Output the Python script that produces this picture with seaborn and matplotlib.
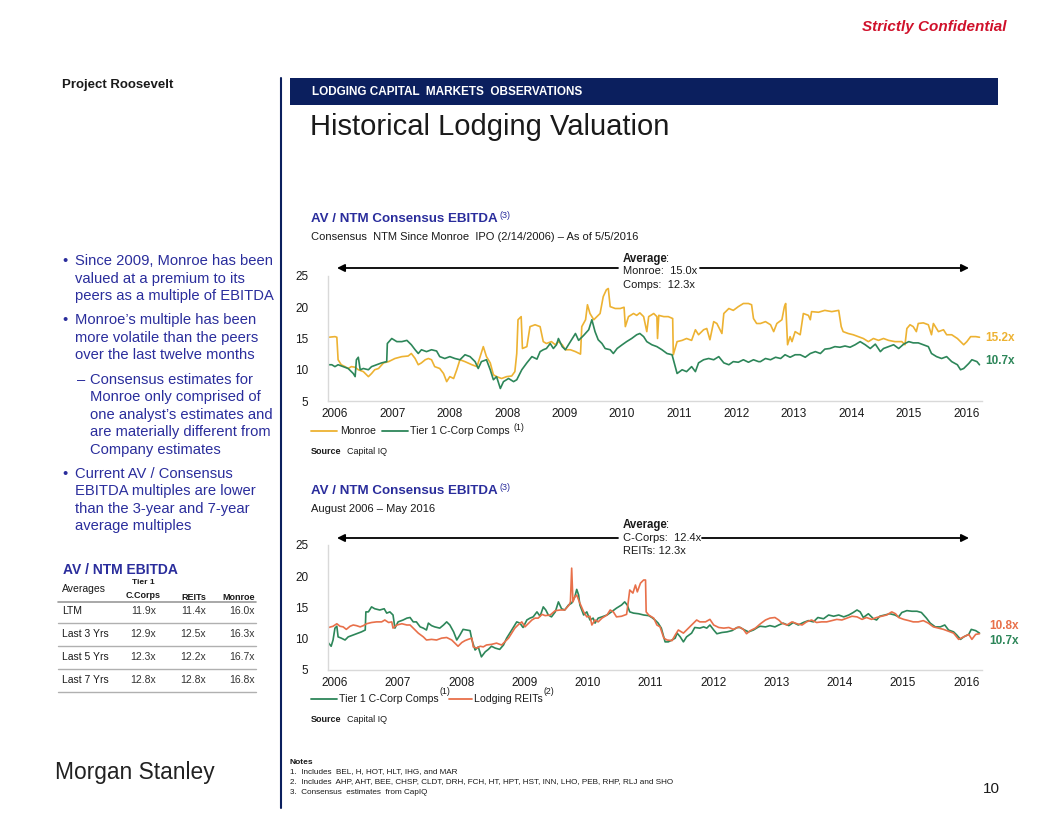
import matplotlib
matplotlib.use("Agg")
import matplotlib.pyplot as plt
from matplotlib.lines import Line2D
from matplotlib.patches import Rectangle
import seaborn as sns
import pandas as pd

sns.set_theme(style="white")
plt.rcParams['font.family'] = ['Liberation Sans', 'DejaVu Sans']

W, H = 1056, 816

GOLD = "#EDB232"
GREEN = "#2D8659"
ORANGE = "#E8704A"
NAVY = "#0B1F5E"
BLUE = "#2A2D9C"

# ---------------- DATA ----------------
# x is in axis periods: 0 = first tick label, 10 = last tick label
top_ticks = ["2006", "2007", "2008", "2008", "2009", "2010", "2011", "2012", "2013", "2014", "2015", "2016"]
bot_ticks = ["2006", "2007", "2008", "2009", "2010", "2011", "2012", "2013", "2014", "2015", "2016"]

top_monroe_t = [-0.1, 0.0, 0.03, 0.05, 0.1, 0.16, 0.21, 0.26, 0.32, 0.37, 0.45, 0.53, 0.58, 0.63, 0.69, 0.77, 0.85, 0.95,
                1.06, 1.16, 1.21, 1.27, 1.32, 1.37, 1.43, 1.48, 1.53, 1.58, 1.66, 1.72, 1.77, 1.82, 1.88, 1.93, 1.98,
                2.06, 2.17, 2.25, 2.3, 2.35, 2.4, 2.46, 2.51, 2.56, 2.64, 2.72, 2.8, 2.85, 2.88, 2.9, 2.95, 2.97,
                3.04, 3.09, 3.17, 3.25, 3.3, 3.35, 3.43, 3.49, 3.54, 3.6, 3.65, 3.73, 3.81, 3.89, 3.91, 3.97,
                4.0, 4.04, 4.1, 4.15, 4.2, 4.25, 4.3, 4.33, 4.36, 4.44, 4.52, 4.58, 4.6, 4.65, 4.73, 4.78, 4.83,
                4.89, 4.94, 4.97, 5.05, 5.1, 5.11, 5.13, 5.21, 5.28, 5.35, 5.36, 5.42, 5.5, 5.57, 5.65, 5.71,
                5.76, 5.84, 5.89, 5.94, 6.0, 6.05, 6.13, 6.16, 6.24, 6.31, 6.39, 6.47, 6.55, 6.6, 6.63, 6.68,
                6.74, 6.82, 6.9, 6.95, 7.0, 7.08, 7.12, 7.14, 7.17, 7.21, 7.24, 7.29, 7.37, 7.42, 7.5, 7.53,
                7.55, 7.66, 7.76, 7.87, 7.98, 8.02, 8.05, 8.13, 8.21, 8.29, 8.37, 8.45, 8.53, 8.61, 8.69, 8.77,
                8.87, 8.98, 9.03, 9.06, 9.11, 9.16, 9.21, 9.24, 9.32, 9.4, 9.45, 9.48, 9.56, 9.64, 9.69, 9.77,
                9.86, 9.91, 9.96, 10.01, 10.07, 10.15, 10.21]
top_monroe = [15.2, 15.3, 15.2, 11.6, 10.8, 10.5, 10.2, 10.5, 10.4, 10.0, 9.7, 8.9, 9.4, 10.0, 10.2, 11.1, 11.3, 11.8,
              12.1, 12.2, 12.6, 11.8, 10.8, 11.1, 11.6, 11.8, 11.6, 10.5, 10.2, 9.4, 8.1, 8.9, 8.6, 10.0, 11.6,
              11.3, 10.8, 10.5, 12.1, 13.7, 12.1, 11.1, 9.2, 8.9, 8.6, 8.9, 9.0, 9.7, 12.6, 18.0, 18.5, 13.4,
              13.7, 16.9, 17.2, 16.9, 14.5, 14.2, 14.5, 14.0, 14.5, 14.0, 13.2, 13.2, 12.9, 12.5, 16.9, 18.0,
              20.4, 19.0, 18.0, 18.5, 19.0, 21.7, 22.8, 23.0, 20.1, 19.8, 19.8, 20.0, 16.9, 18.5, 19.0, 18.7, 19.1,
              18.5, 16.1, 18.5, 19.0, 18.5, 15.0, 18.7, 18.5, 18.5, 18.2, 12.4, 14.5, 14.7, 15.0, 14.7, 16.4,
              15.6, 16.4, 16.6, 14.8, 17.7, 17.4, 15.8, 19.0, 19.8, 19.5, 20.1, 20.6, 20.6, 20.4, 18.2, 17.4,
              17.4, 17.7, 17.2, 16.1, 17.4, 18.0, 20.1, 20.6, 14.0, 15.3, 14.5, 16.1, 15.6, 19.0, 18.7, 18.0,
              19.3, 19.2, 19.5, 19.3, 19.5, 16.9, 16.1, 15.8, 15.6, 15.3, 15.0, 14.5, 15.0, 14.7, 15.0, 14.7,
              14.5, 14.5, 14.0, 16.6, 17.2, 16.9, 16.1, 17.4, 17.5, 17.2, 15.6, 17.4, 16.1, 16.4, 15.6, 15.6,
              15.0, 14.5, 14.0, 14.5, 15.3, 15.3, 15.2]

top_comps_t = [-0.1, -0.05, 0.0, 0.05, 0.13, 0.21, 0.29, 0.32, 0.34, 0.37, 0.4, 0.45, 0.53, 0.58, 0.66, 0.74, 0.82, 0.83,
               0.9, 0.98, 1.06, 1.14, 1.21, 1.27, 1.32, 1.37, 1.45, 1.53, 1.61, 1.66, 1.74, 1.82, 1.9, 1.98, 2.06,
               2.14, 2.22, 2.27, 2.32, 2.4, 2.46, 2.51, 2.56, 2.62, 2.67, 2.75, 2.83, 2.88, 2.96, 3.04, 3.12, 3.2,
               3.25, 3.3, 3.35, 3.41, 3.46, 3.51, 3.54, 3.6, 3.65, 3.73, 3.81, 3.86, 3.94, 4.02, 4.07, 4.12, 4.17,
               4.23, 4.28, 4.36, 4.41, 4.47, 4.55, 4.62, 4.7, 4.78, 4.83, 4.89, 4.94, 5.02, 5.1, 5.18, 5.26, 5.34,
               5.39, 5.42, 5.5, 5.57, 5.65, 5.71, 5.76, 5.84, 5.92, 6.0, 6.08, 6.16, 6.24, 6.31, 6.39, 6.47, 6.55,
               6.63, 6.71, 6.74, 6.82, 6.9, 6.98, 7.06, 7.13, 7.21, 7.29, 7.37, 7.45, 7.53, 7.61, 7.69, 7.76, 7.84,
               7.92, 8.0, 8.08, 8.16, 8.24, 8.32, 8.4, 8.48, 8.56, 8.64, 8.69, 8.77, 8.85, 8.93, 9.01, 9.09, 9.16,
               9.24, 9.32, 9.4, 9.45, 9.53, 9.61, 9.69, 9.77, 9.86, 9.91, 9.96, 10.04, 10.09, 10.17, 10.21]
top_comps = [10.8, 10.8, 10.5, 10.8, 10.5, 10.2, 9.4, 8.9, 11.6, 12.0, 10.0, 10.2, 10.0, 10.5, 10.8, 11.1, 11.3, 14.2,
             15.0, 14.5, 14.5, 14.7, 14.0, 13.2, 12.6, 13.2, 12.9, 13.2, 13.0, 12.1, 11.8, 12.1, 11.8, 11.6, 12.4,
             12.1, 11.3, 10.2, 11.3, 11.6, 10.0, 8.4, 8.9, 7.0, 8.1, 8.6, 8.1, 8.4, 10.0, 11.1, 12.1, 11.7,
             12.9, 13.2, 13.4, 14.2, 13.4, 14.0, 15.0, 13.7, 13.2, 14.5, 15.8, 14.7, 15.5, 16.4, 18.0, 16.1, 14.8,
             14.2, 13.4, 13.2, 12.6, 13.4, 14.0, 14.5, 15.0, 15.6, 15.8, 15.3, 14.5, 14.0, 13.7, 13.2, 12.6, 12.4,
             10.5, 9.4, 10.0, 9.7, 10.5, 9.7, 11.1, 11.6, 11.8, 11.6, 12.1, 11.1, 10.8, 11.3, 11.2, 11.6, 11.2,
             11.6, 11.3, 11.3, 11.8, 11.6, 12.0, 11.8, 12.4, 12.0, 12.4, 12.4, 12.0, 12.6, 12.9, 12.6, 13.3, 13.4,
             13.7, 13.6, 13.8, 13.6, 14.0, 14.5, 14.0, 13.4, 14.1, 12.9, 13.4, 13.7, 14.0, 13.4, 14.1, 14.5, 14.3,
             14.3, 14.0, 13.7, 12.6, 12.1, 11.8, 12.1, 11.3, 10.8, 10.0, 10.2, 11.0, 11.6, 11.3, 10.8]

bot_comps_t = [-0.1, -0.06, -0.03, 0.0, 0.03, 0.05, 0.1, 0.16, 0.21, 0.29, 0.37, 0.42, 0.48, 0.49, 0.53, 0.58, 0.63,
               0.71, 0.78, 0.82, 0.87, 0.92, 0.95, 1.0, 1.08, 1.14, 1.19, 1.24, 1.29, 1.35, 1.4, 1.45, 1.48, 1.53,
               1.58, 1.66, 1.72, 1.77, 1.82, 1.88, 1.93, 1.98, 2.03, 2.09, 2.14, 2.17, 2.22, 2.27, 2.32, 2.38, 2.43,
               2.48, 2.54, 2.61, 2.67, 2.72, 2.77, 2.83, 2.88, 2.93, 2.98, 3.04, 3.09, 3.14, 3.2, 3.25, 3.3, 3.34,
               3.38, 3.43, 3.49, 3.54, 3.59, 3.64, 3.7, 3.75, 3.8, 3.83, 3.86, 3.88, 3.94, 3.99, 4.04, 4.09, 4.12,
               4.17, 4.23, 4.31, 4.38, 4.46, 4.54, 4.59, 4.63, 4.67, 4.73, 4.81, 4.89, 4.97, 5.02, 5.07, 5.12, 5.17,
               5.23, 5.28, 5.34, 5.39, 5.42, 5.47, 5.52, 5.57, 5.65, 5.7, 5.78, 5.84, 5.89, 5.94, 6.0, 6.05, 6.13,
               6.21, 6.29, 6.37, 6.42, 6.47, 6.55, 6.63, 6.71, 6.74, 6.82, 6.89, 6.97, 7.03, 7.1, 7.19, 7.26, 7.34,
               7.42, 7.5, 7.58, 7.65, 7.74, 7.82, 7.9, 7.98, 8.06, 8.14, 8.21, 8.27, 8.32, 8.37, 8.45, 8.53, 8.58,
               8.63, 8.71, 8.79, 8.87, 8.93, 8.98, 9.06, 9.14, 9.22, 9.29, 9.37, 9.43, 9.51, 9.59, 9.66, 9.72, 9.8,
               9.85, 9.91, 9.96, 10.04, 10.08, 10.15, 10.21]
bot_comps = [9.3, 8.8, 9.8, 11.7, 12.0, 10.3, 10.1, 9.8, 10.3, 10.6, 10.9, 11.1, 11.4, 14.3, 14.3, 15.1, 14.8,
             14.6, 14.8, 14.1, 14.3, 13.8, 11.7, 12.7, 13.0, 13.3, 13.4, 12.7, 12.7, 11.9, 11.7, 11.4, 12.5, 12.1,
             11.9, 11.7, 12.2, 12.7, 12.2, 11.1, 9.8, 10.6, 11.5, 11.4, 11.3, 9.8, 8.2, 8.7, 7.1, 7.9, 8.3,
             8.8, 8.5, 8.3, 9.0, 10.1, 10.9, 11.9, 12.7, 12.5, 11.8, 13.0, 13.3, 13.5, 14.3, 13.6, 15.1, 14.6,
             13.8, 13.5, 14.3, 15.9, 14.8, 14.6, 15.4, 15.7, 16.7, 17.9, 17.0, 15.4, 13.8, 14.3, 13.0, 13.3, 12.5,
             13.3, 13.5, 13.8, 14.3, 14.9, 15.4, 15.9, 15.4, 14.3, 14.1, 14.0, 13.8, 13.7, 13.4, 13.0, 12.5, 11.7,
             9.5, 9.5, 9.8, 10.1, 10.9, 10.3, 9.5, 10.3, 10.9, 11.8, 11.7, 11.9, 11.7, 12.2, 11.4, 10.8, 11.0,
             11.1, 11.3, 11.8, 11.8, 11.5, 11.1, 11.4, 11.9, 12.0, 11.9, 12.1, 11.9, 12.2, 12.5, 12.1, 12.6, 12.2,
             12.6, 12.9, 12.7, 13.4, 13.2, 13.8, 13.6, 13.8, 13.5, 13.8, 14.2, 14.6, 14.3, 13.4, 14.0, 13.2, 13.0,
             13.6, 13.8, 14.0, 13.8, 13.5, 14.2, 14.5, 14.4, 14.4, 14.2, 13.3, 12.5, 11.9, 11.9, 12.2, 11.4, 11.1,
             10.6, 9.9, 10.3, 10.7, 11.5, 11.3, 10.9]

bot_reits_t = [-0.1, -0.03, 0.03, 0.08, 0.13, 0.18, 0.24, 0.29, 0.34, 0.4, 0.45, 0.5, 0.58, 0.66, 0.74, 0.79, 0.85,
               0.9, 0.92, 0.98, 1.06, 1.14, 1.19, 1.24, 1.32, 1.4, 1.45, 1.53, 1.61, 1.69, 1.77, 1.85, 1.9, 1.95,
               2.01, 2.06, 2.11, 2.17, 2.19, 2.25, 2.3, 2.35, 2.4, 2.48, 2.56, 2.64, 2.69, 2.75, 2.8, 2.85, 2.9,
               2.96, 3.01, 3.06, 3.12, 3.17, 3.22, 3.28, 3.33, 3.41, 3.49, 3.57, 3.64, 3.71, 3.73, 3.75, 3.77, 3.8,
               3.83, 3.88, 3.94, 3.99, 4.04, 4.07, 4.12, 4.17, 4.23, 4.31, 4.36, 4.41, 4.46, 4.54, 4.62, 4.64, 4.67,
               4.72, 4.76, 4.79, 4.84, 4.89, 4.92, 4.93, 4.97, 5.05, 5.1, 5.15, 5.21, 5.26, 5.34, 5.39, 5.44, 5.52,
               5.57, 5.65, 5.73, 5.78, 5.87, 5.94, 6.0, 6.08, 6.16, 6.24, 6.31, 6.4, 6.47, 6.52, 6.58, 6.66, 6.74,
               6.82, 6.89, 6.97, 7.03, 7.08, 7.16, 7.24, 7.32, 7.4, 7.47, 7.55, 7.63, 7.71, 7.79, 7.87, 7.95, 8.03,
               8.11, 8.19, 8.27, 8.35, 8.42, 8.5, 8.58, 8.66, 8.74, 8.82, 8.88, 8.93, 9.01, 9.09, 9.16, 9.24, 9.32,
               9.4, 9.48, 9.56, 9.64, 9.72, 9.8, 9.88, 9.96, 10.04, 10.09, 10.15, 10.21]
bot_reits = [11.8, 12.0, 12.4, 12.0, 11.9, 11.5, 12.0, 12.2, 12.1, 11.9, 12.1, 12.4, 12.6, 12.7, 12.7, 13.0, 12.6,
             12.7, 11.7, 12.2, 12.4, 12.2, 12.2, 11.7, 10.9, 10.3, 9.8, 9.9, 9.8, 10.1, 10.2, 9.8, 9.3, 8.8,
             9.4, 9.7, 9.9, 10.1, 8.7, 8.5, 8.8, 8.7, 9.0, 9.1, 9.3, 9.0, 9.5, 10.1, 10.9, 11.7, 12.2,
             12.7, 11.9, 12.4, 13.0, 13.3, 13.3, 13.9, 13.7, 13.8, 14.5, 14.6, 14.6, 15.4, 15.9, 21.3, 15.9, 16.7,
             17.0, 15.7, 14.3, 13.5, 13.6, 12.2, 13.0, 12.7, 13.3, 13.8, 14.6, 14.3, 13.5, 13.6, 13.9, 15.4, 17.8,
             17.3, 18.6, 17.5, 18.9, 19.4, 19.4, 14.3, 13.8, 13.3, 12.2, 11.9, 10.1, 9.8, 9.7, 10.6, 11.4, 10.9,
             11.4, 12.2, 13.0, 12.7, 12.7, 13.1, 12.2, 11.8, 11.7, 11.8, 11.5, 11.9, 11.5, 10.8, 11.3, 11.7, 12.4,
             13.0, 13.3, 13.4, 13.0, 12.5, 12.2, 12.7, 12.4, 12.2, 12.7, 13.0, 12.6, 12.7, 12.7, 12.9, 13.1, 13.0,
             13.3, 13.6, 13.5, 13.1, 13.4, 13.1, 13.4, 13.6, 13.8, 14.3, 14.0, 13.4, 13.1, 12.9, 12.7, 12.7, 12.9,
             12.5, 11.9, 11.7, 11.5, 11.2, 10.9, 9.9, 10.3, 10.7, 9.9, 10.7, 10.8]

table_rows = ["LTM", "Last 3 Yrs", "Last 5 Yrs", "Last 7 Yrs"]
table_ccorps = ["11.9x", "12.9x", "12.3x", "12.8x"]
table_reits = ["11.4x", "12.5x", "12.2x", "12.8x"]
table_monroe = ["16.0x", "16.3x", "16.7x", "16.8x"]

bullets = [
    (0, ["Since 2009, Monroe has been", "valued at a premium to its", "peers as a multiple of EBITDA"]),
    (0, ["Monroe\u2019s multiple has been", "more volatile than the peers", "over the last twelve months"]),
    (1, ["Consensus estimates for", "Monroe only comprised of", "one analyst\u2019s estimates and",
         "are materially different from", "Company estimates"]),
    (0, ["Current AV / Consensus", "EBITDA multiples are lower", "than the 3-year and 7-year", "average multiples"]),
]

notes = ["1.  Includes  BEL, H, HOT, HLT, IHG, and MAR",
         "2.  Includes  AHP, AHT, BEE, CHSP, CLDT, DRH, FCH, HT, HPT, HST, INN, LHO, PEB, RHP, RLJ and SHO",
         "3.  Consensus  estimates  from CapIQ"]


def fx(px):
    return px / W


def fy(py):
    return 1 - py / H


def ftext(px, py, s, **kw):
    kw.setdefault("va", "center")
    kw.setdefault("fontsize", 8)
    kw.setdefault("color", "#1a1a1a")
    return fig.text(fx(px), fy(py), s, **kw)


def fline(x0, x1, y0, y1, **kw):
    fig.add_artist(Line2D([fx(x0), fx(x1)], [fy(y0), fy(y1)], transform=fig.transFigure, **kw))


fig = plt.figure(figsize=(W / 100, H / 100), dpi=100)
fig.patch.set_facecolor("white")

# header area
ftext(1007, 27, "Strictly Confidential", ha="right", fontsize=11, color="#D0112B", fontweight="bold", style="italic")
ftext(62, 85, "Project Roosevelt", fontsize=9.5, fontweight="bold")
fig.add_artist(Rectangle((fx(290), fy(105)), fx(998) - fx(290), fy(78) - fy(105), transform=fig.transFigure,
                         facecolor=NAVY, edgecolor="none"))
ftext(312, 92, "LODGING CAPITAL  MARKETS  OBSERVATIONS", fontsize=8.5, color="white", fontweight="bold")
fline(281, 281, 78, 808, color=NAVY, lw=1.5)
ftext(310, 127, "Historical Lodging Valuation", fontsize=21)

# left column bullets
y = 261
for level, lines in bullets:
    if level == 0:
        ftext(62, y, "\u2022", fontsize=10.6, color=BLUE)
        x = 75
    else:
        ftext(77, y, "\u2013", fontsize=10.6, color=BLUE)
        x = 90
    for ln in lines:
        ftext(x, y, ln, fontsize=10.6, color=BLUE)
        y += 17.5
    y += 6.8

# table
ftext(63, 570, "AV / NTM EBITDA", fontsize=10, fontweight="bold", color=BLUE)
ftext(62, 589, "Averages", fontsize=7.5)
ftext(143, 583, "Tier 1", fontsize=6, fontweight="bold", ha="center")
ftext(143, 596, "C.Corps", fontsize=6.5, fontweight="bold", ha="center")
ftext(206, 597, "REITs", fontsize=6.5, fontweight="bold", ha="right")
ftext(255, 597, "Monroe", fontsize=6.5, fontweight="bold", ha="right")
fline(58, 256, 602, 602, color="#9a9a9a", lw=1.2)
for i, r in enumerate(table_rows):
    ry = 611 + i * 23
    ftext(62, ry, r, fontsize=7.5)
    ftext(156, ry, table_ccorps[i], fontsize=7.5, ha="right", color="#333333")
    ftext(206, ry, table_reits[i], fontsize=7.5, ha="right", color="#333333")
    ftext(255, ry, table_monroe[i], fontsize=7.5, ha="right", color="#333333")
    fline(58, 256, ry + 12, ry + 12, color="#b0b0b0", lw=1.0)

# logo, notes, page number
ftext(55, 772, "Morgan Stanley", fontsize=16.4, color="#222222")
ftext(290, 762, "Notes", fontsize=6, fontweight="bold")
for i, n in enumerate(notes):
    ftext(290, 772 + i * 10, n, fontsize=5.9)
ftext(1000, 789, "10", fontsize=11, ha="right")


def make_axes(top_px, bottom_px, labels):
    ax = fig.add_axes([fx(328), fy(bottom_px), fx(982) - fx(328), fy(top_px) - fy(bottom_px)])
    ax.set_facecolor("white")
    ax.set_xlim(-0.11, 10.25)
    ax.set_ylim(5, 25)
    ax.set_yticks([5, 10, 15, 20, 25])
    n = len(labels) - 1
    ax.set_xticks([i * 10 / n for i in range(n + 1)])
    ax.set_xticklabels(labels)
    for s in ["top", "right"]:
        ax.spines[s].set_visible(False)
    for s in ["left", "bottom"]:
        ax.spines[s].set_color("#d9d9d9")
        ax.spines[s].set_linewidth(1.0)
    ax.tick_params(axis="y", length=0, pad=14, labelsize=8.5, labelcolor="#1a1a1a")
    ax.tick_params(axis="x", length=0, pad=5, labelsize=8.5, labelcolor="#1a1a1a")
    ax.grid(False)
    return ax


def finish(ax):
    ax.set_xlabel("")
    ax.set_ylabel("")
    if ax.get_legend() is not None:
        ax.get_legend().remove()


arrow_kw = dict(arrowstyle="-|>", color="black", lw=1.3, mutation_scale=11, shrinkA=0, shrinkB=0)

# ---------------- chart 1 ----------------
ax1 = make_axes(276, 401, top_ticks)
df_m = pd.DataFrame({"t": top_monroe_t, "v": top_monroe})
df_c = pd.DataFrame({"t": top_comps_t, "v": top_comps})
sns.lineplot(data=df_m, x="t", y="v", ax=ax1, color=GOLD, lw=1.2, estimator=None, sort=False)
sns.lineplot(data=df_c, x="t", y="v", ax=ax1, color=GREEN, lw=1.2, estimator=None, sort=False)
finish(ax1)

ftext(311, 219, "AV / NTM Consensus EBITDA", fontsize=9.6, fontweight="bold", color=BLUE)
ftext(500, 215, "(3)", fontsize=6.5, color=BLUE)
ftext(311, 237, "Consensus  NTM Since Monroe  IPO (2/14/2006) \u2013 As of 5/5/2016", fontsize=8)
ftext(623, 259, "Average", fontsize=8.3, fontweight="bold")
ftext(666, 259, ":", fontsize=8.3)
ftext(623, 271, "Monroe:  15.0x", fontsize=8)
ftext(623, 285, "Comps:  12.3x", fontsize=8)
ax1.annotate("", xy=(fx(337), fy(268)), xytext=(fx(618), fy(268)), xycoords="figure fraction", arrowprops=arrow_kw)
ax1.annotate("", xy=(fx(969), fy(268)), xytext=(fx(700), fy(268)), xycoords="figure fraction", arrowprops=arrow_kw)
ftext(985, 338, "15.2x", fontsize=8.5, fontweight="bold", color=GOLD)
ftext(985, 361, "10.7x", fontsize=8.5, fontweight="bold", color=GREEN)

fline(311, 337, 431, 431, color=GOLD, lw=1.3)
ftext(340, 431, "Monroe", fontsize=7.6)
fline(382, 408, 431, 431, color=GREEN, lw=1.3)
ftext(410, 431, "Tier 1 C-Corp Comps", fontsize=7.6)
ftext(513, 428, "(1)", fontsize=6.3)
ftext(311, 452, "Source", fontsize=6.5, fontweight="bold")
ftext(347, 452, "Capital IQ", fontsize=6.5)

# ---------------- chart 2 ----------------
ax2 = make_axes(545, 670, bot_ticks)
df_c2 = pd.DataFrame({"t": bot_comps_t, "v": bot_comps})
df_r2 = pd.DataFrame({"t": bot_reits_t, "v": bot_reits})
sns.lineplot(data=df_c2, x="t", y="v", ax=ax2, color=GREEN, lw=1.2, estimator=None, sort=False)
sns.lineplot(data=df_r2, x="t", y="v", ax=ax2, color=ORANGE, lw=1.2, estimator=None, sort=False)
finish(ax2)

ftext(311, 491, "AV / NTM Consensus EBITDA", fontsize=9.6, fontweight="bold", color=BLUE)
ftext(500, 487, "(3)", fontsize=6.5, color=BLUE)
ftext(311, 509, "August 2006 \u2013 May 2016", fontsize=8)
ftext(623, 525, "Average", fontsize=8.3, fontweight="bold")
ftext(666, 525, ":", fontsize=8.3)
ftext(623, 538, "C-Corps:  12.4x", fontsize=8)
ftext(623, 551, "REITs: 12.3x", fontsize=8)
ax2.annotate("", xy=(fx(337), fy(538)), xytext=(fx(618), fy(538)), xycoords="figure fraction", arrowprops=arrow_kw)
ax2.annotate("", xy=(fx(969), fy(538)), xytext=(fx(702), fy(538)), xycoords="figure fraction", arrowprops=arrow_kw)
ftext(989, 626, "10.8x", fontsize=8.5, fontweight="bold", color=ORANGE)
ftext(989, 641, "10.7x", fontsize=8.5, fontweight="bold", color=GREEN)

fline(311, 337, 699, 699, color=GREEN, lw=1.3)
ftext(339, 699, "Tier 1 C-Corp Comps", fontsize=7.6)
ftext(439, 692, "(1)", fontsize=6.3)
fline(449, 472, 699, 699, color=ORANGE, lw=1.3)
ftext(474, 699, "Lodging REITs", fontsize=7.6)
ftext(543, 692, "(2)", fontsize=6.3)
ftext(311, 719, "Source", fontsize=6.5, fontweight="bold")
ftext(347, 719, "Capital IQ", fontsize=6.5)

fig.savefig("out.png", dpi=100, facecolor="white")
